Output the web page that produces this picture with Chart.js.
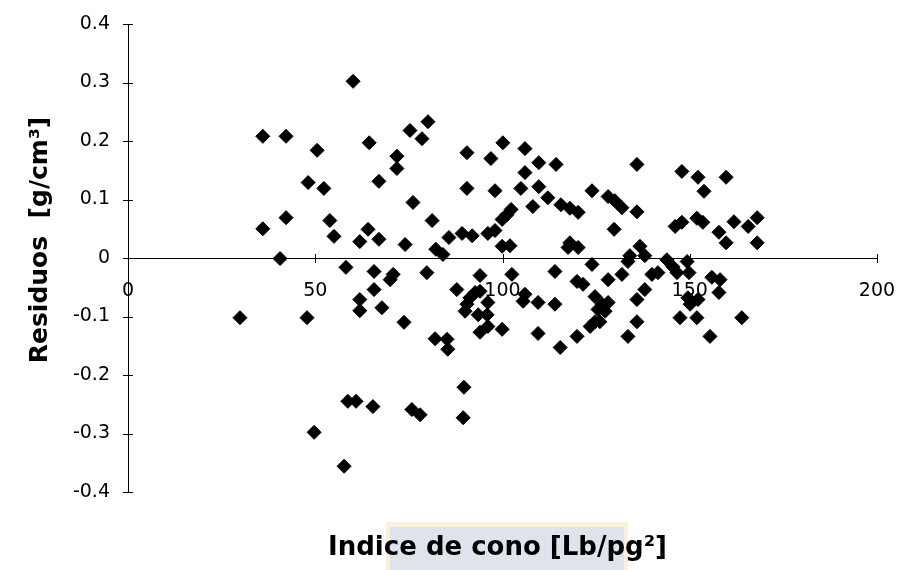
<!DOCTYPE html>
<html>
<head>
<meta charset="utf-8">
<script src="https://cdn.jsdelivr.net/npm/chart.js@4.4.1/dist/chart.umd.min.js"></script>
<style>
  body { margin: 0; background: #fff; }
  #wrap { width: 897px; height: 570px; position: relative; }
</style>
</head>
<body>
<div id="wrap"><canvas id="grafico"></canvas></div>
<script>
// Indice de cono [Lb/pg2] (eje x)
const indiceCono = [
  36.0, 42.2, 50.5, 60.1, 64.4, 48.1, 52.3, 67.0, 71.8, 71.8,
  36.0, 42.2, 53.9, 55.0, 61.9, 64.1, 67.0, 40.6, 80.1, 75.3,
  78.5, 90.5, 96.9, 100.1, 90.5, 98.0, 76.1, 81.2, 74.0, 82.2,
  84.1, 85.7, 89.2, 91.9, 96.1, 98.0, 99.9, 101.2, 102.3, 99.9,
  102.0, 106.0, 109.7, 114.3, 106.0, 104.9, 109.7, 112.1, 108.1, 115.6,
  118.0, 120.2, 123.9, 128.2, 130.0, 131.9, 135.9, 135.9, 129.8, 118.0,
  117.5, 120.2, 134.0, 136.7, 138.0, 133.5, 143.9, 145.5, 146.6, 149.3,
  149.8, 147.9, 152.2, 159.7, 153.8, 146.1, 147.9, 151.9, 153.5, 157.8,
  159.7, 161.8, 165.6, 168.0, 168.0,
  29.9, 47.8, 58.2, 65.7, 70.8, 70.0, 79.8, 65.7, 61.9, 61.9,
  67.8, 73.7, 82.0, 85.2, 85.4, 58.7, 60.9, 65.4, 75.8, 78.0,
  49.7, 57.7, 89.7, 89.5, 87.8, 94.0, 92.7, 94.0, 91.3, 90.5,
  90.0, 96.1, 95.9, 93.5, 96.1, 94.0, 99.9, 102.5, 106.0, 105.5,
  109.5, 114.0, 114.0, 123.9, 119.9, 121.5, 128.2, 131.9, 139.9, 141.5,
  124.7, 126.6, 125.5, 127.4, 128.2, 124.7, 123.4, 126.0, 138.0, 135.9,
  135.9, 133.5, 109.5, 119.9, 115.4, 147.4, 151.9, 163.9, 155.9, 158.1,
  157.8, 149.5, 150.1, 152.2, 155.4
];

// Residuos [g/cm3] (eje y)
const residuos = [
  0.208, 0.208, 0.184, 0.302, 0.197, 0.129, 0.119, 0.131, 0.174, 0.153,
  0.050, 0.069, 0.064, 0.037, 0.028, 0.049, 0.032, -0.001, 0.233, 0.218,
  0.204, 0.180, 0.170, 0.197, 0.119, 0.115, 0.095, 0.064, 0.023, 0.015,
  0.006, 0.035, 0.042, 0.038, 0.042, 0.047, 0.066, 0.074, 0.083, 0.020,
  0.021, 0.187, 0.163, 0.160, 0.146, 0.119, 0.122, 0.103, 0.088, 0.091,
  0.085, 0.078, 0.115, 0.105, 0.098, 0.086, 0.079, 0.160, 0.049, 0.026,
  0.018, 0.018, 0.004, 0.020, 0.004, -0.006, -0.003, -0.015, -0.025, -0.006,
  -0.025, 0.148, 0.138, 0.138, 0.114, 0.054, 0.061, 0.068, 0.061, 0.044,
  0.026, 0.062, 0.054, 0.069, 0.026,
  -0.102, -0.102, -0.016, -0.023, -0.028, -0.037, -0.025, -0.054, -0.071, -0.090,
  -0.085, -0.110, -0.138, -0.139, -0.156, -0.245, -0.245, -0.254, -0.259, -0.268,
  -0.298, -0.356, -0.221, -0.273, -0.054, -0.030, -0.059, -0.057, -0.068, -0.079,
  -0.091, -0.076, -0.097, -0.097, -0.117, -0.127, -0.122, -0.028, -0.062, -0.074,
  -0.076, -0.079, -0.023, -0.011, -0.040, -0.045, -0.037, -0.028, -0.028, -0.025,
  -0.066, -0.079, -0.088, -0.091, -0.076, -0.109, -0.117, -0.109, -0.054, -0.071,
  -0.109, -0.134, -0.129, -0.134, -0.153, -0.102, -0.102, -0.102, -0.033, -0.037,
  -0.059, -0.068, -0.079, -0.071, -0.134
];

// limites de los ejes
const xLimites = [0, 200];
const xPaso = 50;
const yLimites = [-0.4, 0.4];
const yPaso = 0.1;

const tituloX = 'Indice de cono [Lb/pg²]';
const tituloY = 'Residuos  [g/cm³]';

const fuente = "'DejaVu Sans', 'Liberation Sans', Arial, sans-serif";

const puntos = indiceCono.map((x, i) => ({ x: x, y: residuos[i] }));

// marca de agua detras del titulo del eje x
const fondoTitulo = {
  id: 'fondoTitulo',
  beforeDraw(chart) {
    const ctx = chart.ctx;
    ctx.save();
    ctx.fillStyle = '#fcefdc';
    ctx.fillRect(386, 522, 242, 48);
    ctx.fillStyle = '#dfe4ec';
    ctx.fillRect(390, 527, 234, 43);
    ctx.restore();
  }
};

// marcas que cruzan los ejes y titulos de los ejes
const ejes = {
  id: 'ejes',
  afterDraw(chart) {
    const ctx = chart.ctx;
    const sx = chart.scales.x;
    const sy = chart.scales.y;
    const y0 = sy.getPixelForValue(0);
    const x0 = sx.getPixelForValue(0);
    ctx.save();
    ctx.strokeStyle = '#000';
    ctx.lineWidth = 1;
    ctx.beginPath();
    sy.ticks.forEach(t => {
      const py = Math.round(sy.getPixelForValue(t.value)) + 0.5;
      ctx.moveTo(x0 - 5, py);
      ctx.lineTo(x0 + 5, py);
    });
    sx.ticks.forEach(t => {
      if (t.value === 0) return;
      const px = Math.round(sx.getPixelForValue(t.value)) + 0.5;
      ctx.moveTo(px, y0 - 4);
      ctx.lineTo(px, y0 + 5);
    });
    ctx.stroke();

    ctx.fillStyle = '#000';
    ctx.textAlign = 'center';
    ctx.textBaseline = 'alphabetic';
    ctx.font = "bold 26px " + fuente;
    ctx.fillText(tituloX, (chart.chartArea.left + chart.chartArea.right) / 2 - 5, 555);

    ctx.translate(47, (chart.chartArea.top + chart.chartArea.bottom) / 2 - 18);
    ctx.rotate(-Math.PI / 2);
    ctx.font = "bold 25px " + fuente;
    ctx.fillText(tituloY, 0, 0);
    ctx.restore();
  }
};

const sinRelleno = (escala) => {
  escala.paddingLeft = 0;
  escala.paddingRight = 0;
  escala.paddingTop = 0;
  escala.paddingBottom = 0;
};

const ctx = document.getElementById('grafico').getContext('2d');
const grafico = new Chart(ctx, {
  type: 'scatter',
  data: {
    datasets: [{
      label: 'Residuos',
      data: puntos,
      pointStyle: 'rectRot',
      pointRadius: 7,
      pointHoverRadius: 7,
      backgroundColor: '#000',
      borderColor: '#000',
      borderWidth: 1
    }]
  },
  options: {
    responsive: true,
    maintainAspectRatio: false,
    animation: false,
    layout: { padding: { top: 24, right: 20, left: 0, bottom: 78 } },
    plugins: {
      legend: { display: false },
      tooltip: { enabled: false },
      title: { display: false }
    },
    scales: {
      x: {
        type: 'linear',
        position: { y: 0 },
        min: xLimites[0],
        max: xLimites[1],
        afterFit: sinRelleno,
        ticks: {
          stepSize: xPaso,
          color: '#000',
          padding: 22,
          maxRotation: 0,
          font: { family: fuente, size: 19 }
        },
        grid: { drawOnChartArea: false, drawTicks: false, color: '#000' },
        border: { display: true, color: '#000', width: 1 }
      },
      y: {
        type: 'linear',
        position: 'left',
        min: yLimites[0],
        max: yLimites[1],
        afterFit: (escala) => { escala.width = 128; sinRelleno(escala); },
        ticks: {
          stepSize: yPaso,
          color: '#000',
          padding: 18,
          font: { family: fuente, size: 19 },
          callback: (v) => String(Math.round(v * 10) / 10)
        },
        grid: { drawOnChartArea: false, drawTicks: false, color: '#000' },
        border: { display: true, color: '#000', width: 1 }
      }
    }
  },
  plugins: [fondoTitulo, ejes]
});
</script>
</body>
</html>
